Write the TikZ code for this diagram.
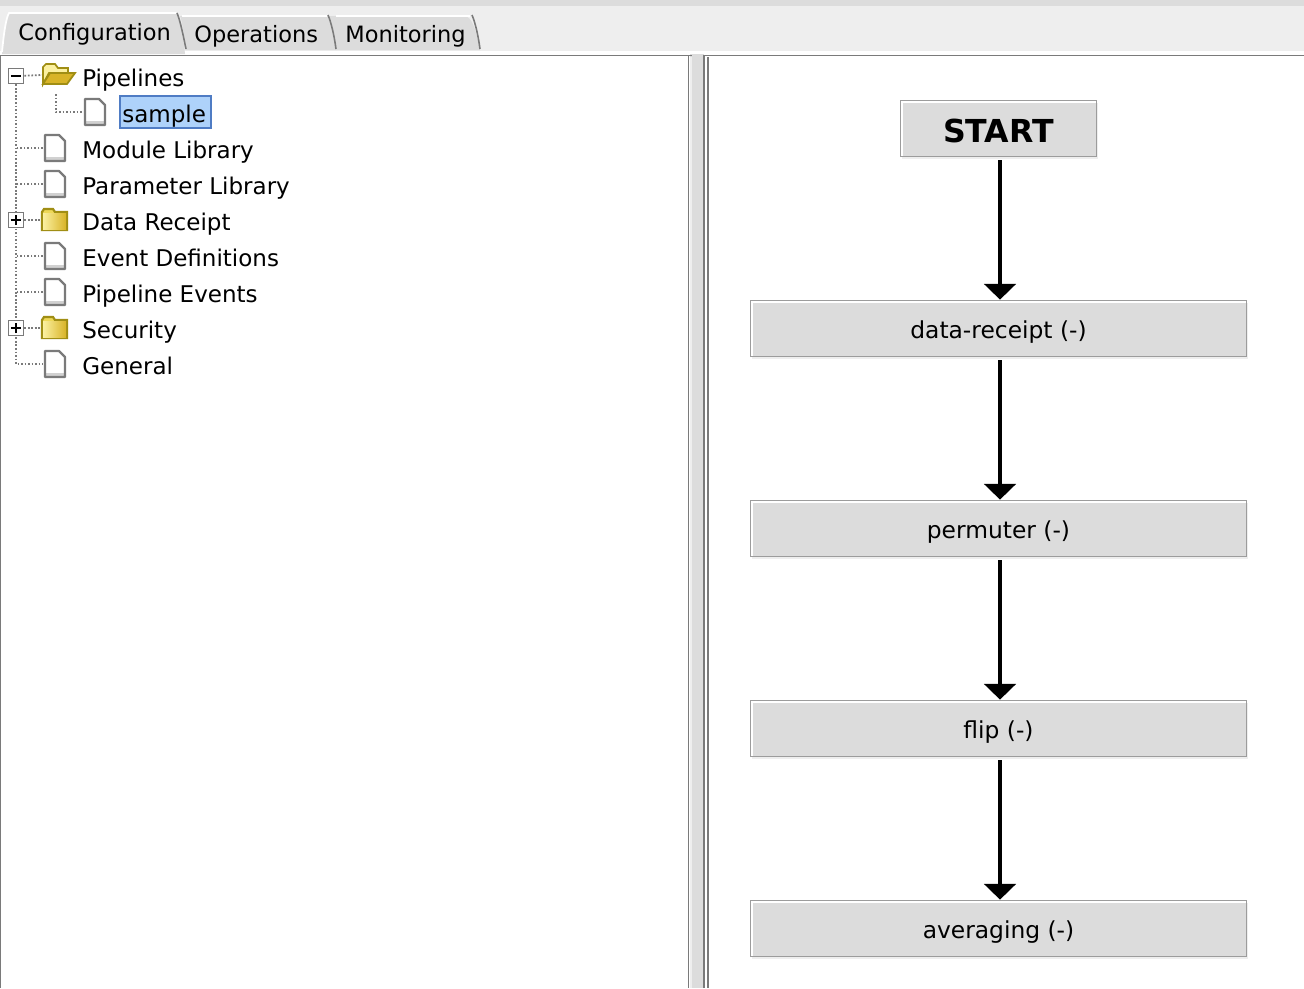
\documentclass[tikz,border=0pt]{standalone}
\usepackage{fontspec}
\setmainfont{DejaVu Sans}
\usetikzlibrary{arrows.meta,shadows}
\definecolor{panelgrey}{HTML}{DCDCDC}
\definecolor{tabbar}{HTML}{EEEEEE}
\definecolor{edgegrey}{HTML}{7A7A7A}
\definecolor{boxedge}{HTML}{9C9C9C}
\definecolor{folderedge}{HTML}{A08E14}
\definecolor{folderlight}{HTML}{FBF0A0}
\definecolor{foldermid}{HTML}{EED858}
\definecolor{folderdark}{HTML}{D8B428}
\definecolor{selectfill}{HTML}{AED2FA}
\definecolor{selectedge}{HTML}{4F7CC4}
\tikzset{
    docicon/.pic={
        \coordinate (-w) at (-12,0);
        \fill[white] (-10,-13) -- (4,-13) -- (10,-7) -- (10,13) -- (-10,13) -- cycle;
        \fill[black!18] (-10,9) rectangle (10,13);
        \draw[edgegrey, line width=1.3pt, line join=round] (-10,-13) -- (4,-13) -- (10,-7) -- (10,13) -- (-10,13) -- cycle;
    },
    closedfolder/.pic={
        \coordinate (-w) at (-14,0);
        \draw[folderedge, line width=1.2pt, fill=foldermid]
            (-13,-8) -- (-11,-11) -- (-2,-11) -- (0,-8) -- (12,-8) -- (12,10) -- (-13,10) -- cycle;
        \shade[left color=folderlight, right color=folderdark] (-12,-7) rectangle (11,9);
    },
    openfolder/.pic={
        \coordinate (-w) at (-16,0);
        \fill[folderlight, draw=folderedge, line width=1pt]
            (-15,9) -- (-15,-8) -- (-12,-11) -- (-3,-11) -- (0,-7) -- (10,-7) -- (10,-2) -- (-9,-2) -- cycle;
        \fill[folderdark, draw=folderedge, line width=1pt]
            (-15,9) -- (-8,-2) -- (17,-2) -- (9,9) -- cycle;
    }
}
\begin{document}
\begin{tikzpicture}[x=0.02cm, y=-0.02cm,
    tabtext/.style={anchor=base west, inner sep=0pt, font=\fontsize{12.8pt}{15pt}\selectfont},
    treetext/.style={anchor=base west, inner sep=0pt, font=\fontsize{13.1pt}{15pt}\selectfont},
    expander/.style={draw=edgegrey, fill=white, line width=1pt, minimum size=8.6pt, inner sep=0pt},
    treeline/.style={edgegrey, line width=1pt, dash pattern=on 1pt off 1pt},
    stepbox/.style={draw=boxedge, fill=panelgrey, line width=1pt, inner sep=0pt,
        minimum width=9.92cm, minimum height=1.12cm, text height=11pt, text depth=0pt,
        font=\fontsize{13.3pt}{15pt}\selectfont,
        general shadow={fill=tabbar, shadow xshift=1pt, shadow yshift=-1.2pt},
        path picture={\draw[white, line width=3pt]
            (path picture bounding box.south west) -- (path picture bounding box.north west)
            -- (path picture bounding box.north east);}},
    startbox/.style={stepbox, minimum width=3.92cm, text height=16pt, font=\fontsize{18pt}{22pt}\selectfont\bfseries},
    flow/.style={line width=2pt, -{Triangle[length=9pt, width=18pt]}, shorten <=1.7pt}
]
\useasboundingbox (0,0) rectangle (1304,988);

% window background
\fill[white] (0,0) rectangle (1304,988);
\fill[tabbar] (0,0) rectangle (1304,54);
\fill[panelgrey] (0,0) rectangle (1304,6);
\fill[white] (0,51) rectangle (1304,54);

% tabs
\fill[panelgrey] (336,50) .. controls (333,30) and (332,20) .. (329,16) -- (464,16) .. controls (472,16) and (476,30) .. (480,50) -- cycle;
\fill[panelgrey] (186,50) .. controls (183,30) and (182,20) .. (180,16) -- (327,16) .. controls (331,20) and (333,30) .. (336,50) -- cycle;
\draw[white, line width=1pt] (182,16) -- (327,16);
\draw[white, line width=1pt] (336,16) -- (470,16);
\draw[edgegrey, line width=0.9pt] (328,15) .. controls (331,22) and (334,34) .. (336,49);
\draw[edgegrey, line width=0.9pt] (472,15) .. controls (475,22) and (478,34) .. (480,49);
\fill[panelgrey] (2,54) .. controls (4,32) and (6,18) .. (9,13) -- (176,13) .. controls (180,20) and (183,34) .. (185,54) -- cycle;
\draw[white, line width=1pt] (2,52) .. controls (4,32) and (6,18) .. (9,13) -- (176,13);
\draw[edgegrey, line width=0.9pt] (177,13) .. controls (180,20) and (183,34) .. (186,49);

\node[tabtext] (tabconfig) at (18,40) {Configuration};
\node[tabtext] (tabops) at (194,42) {Operations};
\node[tabtext] (tabmon) at (345,42) {Monitoring};

% split pane
\fill[panelgrey] (690,54) rectangle (704,988);
\fill[tabbar] (690,57) rectangle (692,988);
\draw[edgegrey, line width=0.9pt] (0,55.5) -- (692,55.5);
\draw[edgegrey, line width=0.9pt] (0.5,56) -- (0.5,988);
\draw[edgegrey, line width=0.9pt] (688.5,56) -- (688.5,988);
\draw[edgegrey, line width=1.1pt] (704,55) -- (704,988);
\draw[edgegrey, line width=0.9pt] (708,57) -- (708,988);
\draw[edgegrey, line width=0.9pt] (704,55.5) -- (1304,55.5);

% tree
\node[expander] (boxpipe) at (16,76) {};
\node[expander] (boxdata) at (16,220) {};
\node[expander] (boxsec) at (16,328) {};

\pic (foldpipe) at (58,75) {openfolder};
\pic (docsample) at (95,112) {docicon};
\pic (docmodule) at (55,148) {docicon};
\pic (docparam) at (55,184) {docicon};
\pic (folddata) at (55,220) {closedfolder};
\pic (docevent) at (55,256) {docicon};
\pic (docpipe) at (55,292) {docicon};
\pic (foldsec) at (55,328) {closedfolder};
\pic (docgen) at (55,364) {docicon};

\coordinate (branch) at (56,94);
\draw[treeline] (boxpipe.south) |- (docgen-w);
\draw[treeline] (boxpipe) -- (foldpipe-w);
\draw[treeline] (branch) |- (docsample-w);
\draw[treeline] (docmodule-w) -- (docmodule-w -| boxpipe);
\draw[treeline] (docparam-w) -- (docparam-w -| boxpipe);
\draw[treeline] (boxdata) -- (folddata-w);
\draw[treeline] (docevent-w) -- (docevent-w -| boxpipe);
\draw[treeline] (docpipe-w) -- (docpipe-w -| boxpipe);
\draw[treeline] (boxsec) -- (foldsec-w);
\node[expander] at (boxpipe) {};
\node[expander] at (boxdata) {};
\node[expander] at (boxsec) {};

\draw[line width=1.1pt] ([xshift=-2.9pt]boxpipe.center) -- ([xshift=2.9pt]boxpipe.center);
\draw[line width=1.1pt] ([xshift=-2.9pt]boxdata.center) -- ([xshift=2.9pt]boxdata.center);
\draw[line width=1.1pt] ([yshift=-2.9pt]boxdata.center) -- ([yshift=2.9pt]boxdata.center);
\draw[line width=1.1pt] ([xshift=-2.9pt]boxsec.center) -- ([xshift=2.9pt]boxsec.center);
\draw[line width=1.1pt] ([yshift=-2.9pt]boxsec.center) -- ([yshift=2.9pt]boxsec.center);

\fill[selectfill, draw=selectedge, line width=0.8pt] (120,96) rectangle (211,128);

\node[treetext] (pipelines) at (82,86) {Pipelines};
\node[treetext] (sample) at (122,122) {sample};
\node[treetext] (module) at (82,158) {Module Library};
\node[treetext] (param) at (82,194) {Parameter Library};
\node[treetext] (datarec) at (82,230) {Data Receipt};
\node[treetext] (eventdef) at (82,266) {Event Definitions};
\node[treetext] (pipeev) at (82,302) {Pipeline Events};
\node[treetext] (security) at (82,338) {Security};
\node[treetext] (general) at (82,374) {General};

% pipeline
\node[startbox] (start) at (998.5,128.5) {START};
\node[stepbox] (receipt) at (998.5,328.5) {data-receipt (-)};
\node[stepbox] (permuter) at (998.5,528.5) {permuter (-)};
\node[stepbox] (flip) at (998.5,728.5) {flip (-)};
\node[stepbox] (averaging) at (998.5,928.5) {averaging (-)};

\draw[flow] ([xshift=0.85pt]start.south) -- ([xshift=0.85pt]receipt.north);
\draw[flow] ([xshift=0.85pt]receipt.south) -- ([xshift=0.85pt]permuter.north);
\draw[flow] ([xshift=0.85pt]permuter.south) -- ([xshift=0.85pt]flip.north);
\draw[flow] ([xshift=0.85pt]flip.south) -- ([xshift=0.85pt]averaging.north);

\end{tikzpicture}
\end{document}
